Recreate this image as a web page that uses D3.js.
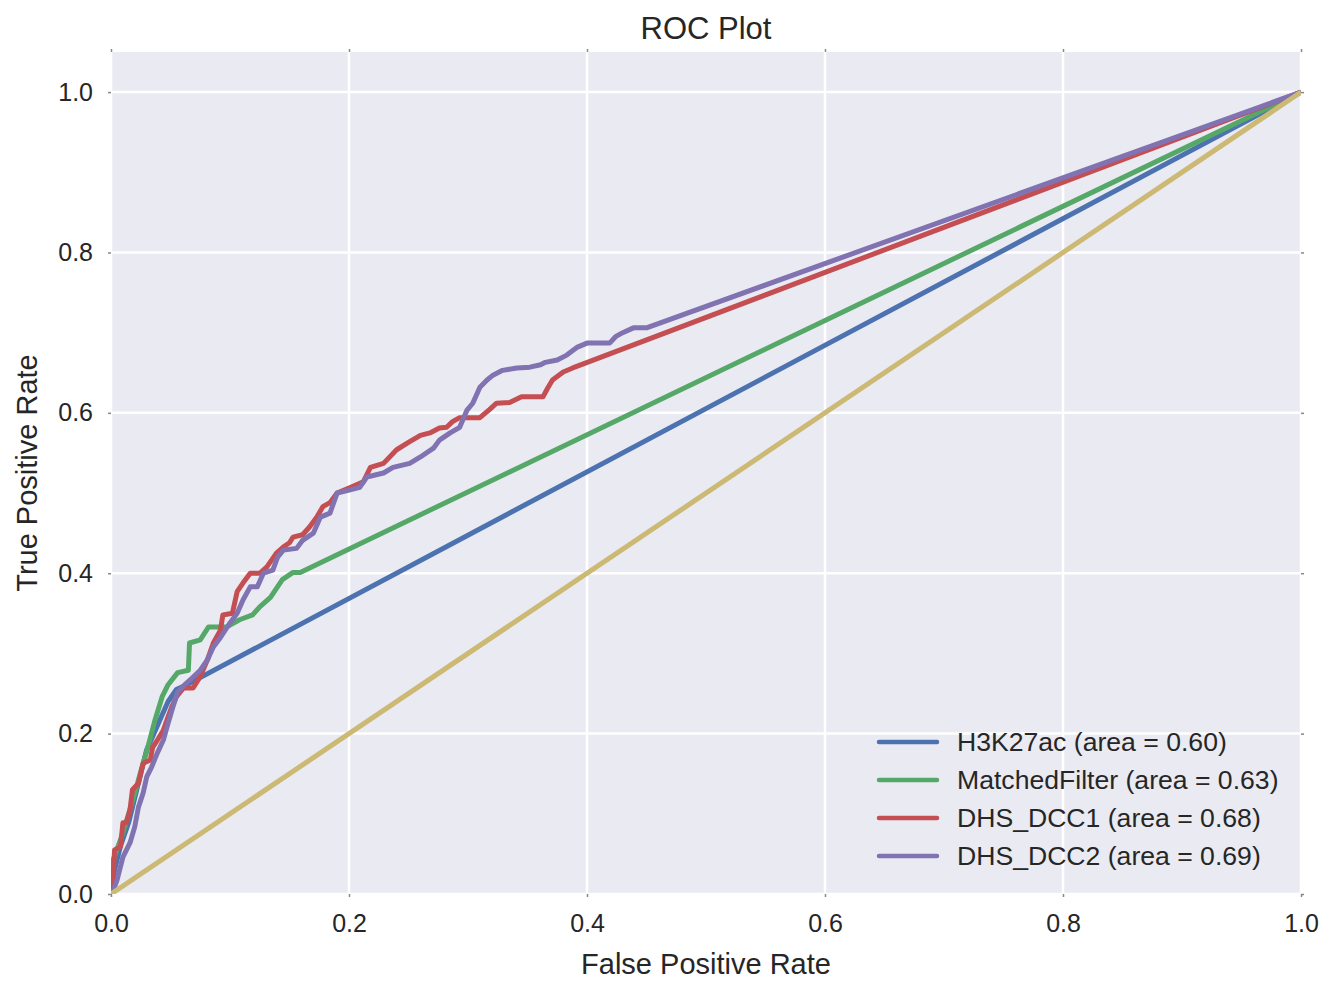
<!DOCTYPE html>
<html>
<head>
<meta charset="utf-8">
<script src="https://cdn.jsdelivr.net/npm/d3@7"></script>
<style>
  body { margin: 0; background: #fff; }
  svg { display: block; font-family: "Liberation Sans", Arial, sans-serif; }
</style>
</head>
<body>
<svg id="chart" width="1329" height="982"></svg>
<script>
// ---- data ----
const seriesNames = ["H3K27ac", "MatchedFilter", "DHS_DCC1", "DHS_DCC2"];
const seriesAUC = ["0.60", "0.63", "0.68", "0.69"];

const h3k27acFpr = [0, 0.003, 0.008, 0.015, 0.020, 0.025, 0.030, 0.036, 0.042, 0.048, 0.055, 0.065, 1];
const h3k27acTpr = [0, 0.030, 0.060, 0.090, 0.120, 0.150, 0.180, 0.200, 0.220, 0.240, 0.255, 0.262, 1];

const matchedFpr = [0, 0.0017, 0.010, 0.020, 0.026, 0.031, 0.037, 0.043, 0.048, 0.056, 0.065, 0.066, 0.075, 0.082, 0.097, 0.108, 0.119, 0.125, 0.134, 0.144, 0.153, 0.159, 1];
const matchedTpr = [0, 0.042, 0.076, 0.126, 0.158, 0.183, 0.217, 0.246, 0.261, 0.276, 0.279, 0.313, 0.317, 0.333, 0.333, 0.342, 0.348, 0.358, 0.370, 0.392, 0.401, 0.401, 1];

const dcc1Fpr = [0, 0.002, 0.003, 0.008, 0.010, 0.013, 0.016, 0.018, 0.023, 0.027, 0.033, 0.035, 0.039, 0.044, 0.047, 0.051, 0.055, 0.061, 0.069, 0.075, 0.081, 0.086, 0.092, 0.094, 0.102, 0.106, 0.111, 0.117, 0.125, 0.131, 0.139, 0.145, 0.150, 0.153, 0.161, 0.167, 0.173, 0.178, 0.184, 0.190, 0.201, 0.212, 0.218, 0.229, 0.240, 0.251, 0.260, 0.268, 0.276, 0.282, 0.287, 0.293, 0.310, 0.318, 0.324, 0.335, 0.345, 0.363, 0.367, 0.371, 0.380, 0.388, 1];
const dcc1Tpr = [0, 0.026, 0.055, 0.059, 0.089, 0.089, 0.105, 0.130, 0.138, 0.163, 0.167, 0.183, 0.192, 0.204, 0.217, 0.233, 0.246, 0.257, 0.257, 0.271, 0.292, 0.313, 0.329, 0.348, 0.350, 0.377, 0.388, 0.400, 0.400, 0.408, 0.425, 0.433, 0.438, 0.445, 0.448, 0.458, 0.470, 0.483, 0.488, 0.500, 0.507, 0.514, 0.532, 0.537, 0.554, 0.564, 0.572, 0.575, 0.581, 0.582, 0.589, 0.594, 0.594, 0.604, 0.612, 0.613, 0.620, 0.620, 0.631, 0.641, 0.651, 0.656, 1];

const dcc2Fpr = [0, 0.001, 0.005, 0.010, 0.016, 0.020, 0.023, 0.027, 0.030, 0.034, 0.039, 0.044, 0.048, 0.052, 0.056, 0.062, 0.068, 0.075, 0.081, 0.086, 0.092, 0.100, 0.106, 0.111, 0.117, 0.123, 0.128, 0.136, 0.140, 0.145, 0.156, 0.161, 0.170, 0.176, 0.184, 0.190, 0.201, 0.209, 0.215, 0.229, 0.237, 0.251, 0.260, 0.271, 0.276, 0.285, 0.293, 0.299, 0.304, 0.310, 0.316, 0.321, 0.329, 0.341, 0.352, 0.361, 0.365, 0.375, 0.383, 0.392, 0.400, 0.419, 0.424, 0.430, 0.439, 0.450, 1];
const dcc2Tpr = [0, 0.001, 0.017, 0.046, 0.064, 0.084, 0.108, 0.126, 0.146, 0.158, 0.176, 0.192, 0.213, 0.233, 0.252, 0.261, 0.269, 0.279, 0.292, 0.308, 0.320, 0.338, 0.350, 0.367, 0.383, 0.383, 0.400, 0.404, 0.420, 0.429, 0.431, 0.441, 0.450, 0.470, 0.475, 0.500, 0.504, 0.507, 0.520, 0.525, 0.532, 0.537, 0.545, 0.556, 0.566, 0.575, 0.582, 0.603, 0.612, 0.632, 0.641, 0.647, 0.653, 0.656, 0.657, 0.660, 0.663, 0.666, 0.672, 0.682, 0.687, 0.687, 0.695, 0.700, 0.706, 0.706, 1];

const chanceFpr = [0, 1];
const chanceTpr = [0, 1];

const xTicks = [0.0, 0.2, 0.4, 0.6, 0.8, 1.0];
const yTicks = [0.0, 0.2, 0.4, 0.6, 0.8, 1.0];

const seriesColors = ["#4c72b0", "#55a868", "#c44e52", "#8172b2"];
const chanceColor = "#ccb974";

(function () {
// ---- layout ----
const svg = d3.select("#chart");
const pLeft = 111, pRight = 1301, pTop = 52, pBottom = 894;

const x = d3.scaleLinear().domain([0, 1]).range([pLeft, pRight]);
const y = d3.scaleLinear().domain([0, 1.05]).range([pBottom, pTop]);

svg.append("rect")
  .attr("x", pLeft).attr("y", pTop)
  .attr("width", pRight - pLeft).attr("height", pBottom - pTop)
  .attr("fill", "#eaeaf2");

svg.append("clipPath").attr("id", "clip")
  .append("rect")
  .attr("x", pLeft).attr("y", pTop)
  .attr("width", pRight - pLeft).attr("height", pBottom - pTop);

// grid
const grid = svg.append("g");
grid.selectAll(".vg").data(xTicks).join("line")
  .attr("x1", d => x(d)).attr("x2", d => x(d))
  .attr("y1", pTop).attr("y2", pBottom)
  .attr("stroke", "#fff").attr("stroke-width", 2.5);
grid.selectAll(".hg").data(yTicks).join("line")
  .attr("y1", d => y(d)).attr("y2", d => y(d))
  .attr("x1", pLeft).attr("x2", pRight)
  .attr("stroke", "#fff").attr("stroke-width", 2.5);

// axes: small outward tick marks on all four sides
const fmt = d3.format(".1f");
function styleAxis(g, labels) {
  g.select(".domain").remove();
  g.selectAll(".tick line").attr("stroke", "#888").attr("stroke-width", 1.5);
  g.selectAll(".tick text")
    .attr("fill", "#262626")
    .style("font-size", "25px")
    .style("font-family", "Liberation Sans, Arial, sans-serif");
  if (!labels) g.selectAll(".tick text").remove();
}
svg.append("g").attr("transform", `translate(0,${pBottom})`)
  .call(d3.axisBottom(x).tickValues(xTicks).tickFormat(fmt).tickSize(3).tickPadding(17))
  .call(g => styleAxis(g, true));
svg.append("g").attr("transform", `translate(0,${pTop})`)
  .call(d3.axisTop(x).tickValues(xTicks).tickSize(3))
  .call(g => styleAxis(g, false));
svg.append("g").attr("transform", `translate(${pLeft},0)`)
  .call(d3.axisLeft(y).tickValues(yTicks).tickFormat(fmt).tickSize(3).tickPadding(15))
  .call(g => styleAxis(g, true));
svg.append("g").attr("transform", `translate(${pRight},0)`)
  .call(d3.axisRight(y).tickValues(yTicks).tickSize(3))
  .call(g => styleAxis(g, false));

// curves
const series = [
  { fpr: h3k27acFpr, tpr: h3k27acTpr },
  { fpr: matchedFpr, tpr: matchedTpr },
  { fpr: dcc1Fpr, tpr: dcc1Tpr },
  { fpr: dcc2Fpr, tpr: dcc2Tpr }
];
const line = d3.line().x(d => x(d[0])).y(d => y(d[1]));
const plot = svg.append("g").attr("clip-path", "url(#clip)");
series.forEach((s, i) => {
  plot.append("path")
    .datum(s.fpr.map((f, k) => [f, s.tpr[k]]))
    .attr("d", line)
    .attr("fill", "none")
    .attr("stroke", seriesColors[i])
    .attr("stroke-width", 5)
    .attr("stroke-linejoin", "round");
});
plot.append("path")
  .datum(chanceFpr.map((f, k) => [f, chanceTpr[k]]))
  .attr("d", line)
  .attr("fill", "none")
  .attr("stroke", chanceColor)
  .attr("stroke-width", 5);

// legend
const legend = svg.append("g");
seriesNames.forEach((name, i) => {
  const ly = 742 + i * 38;
  legend.append("line")
    .attr("x1", 879).attr("x2", 937).attr("y1", ly).attr("y2", ly)
    .attr("stroke", seriesColors[i]).attr("stroke-width", 4.5)
    .attr("stroke-linecap", "round");
  legend.append("text")
    .attr("x", 957).attr("y", ly)
    .attr("dy", "0.35em")
    .attr("fill", "#262626")
    .style("font-size", "26.6px")
    .text(`${name} (area = ${seriesAUC[i]})`);
});

// title and axis labels
svg.append("text")
  .attr("x", (pLeft + pRight) / 2).attr("y", 39)
  .attr("text-anchor", "middle").attr("fill", "#262626")
  .style("font-size", "31px").text("ROC Plot");
svg.append("text")
  .attr("x", (pLeft + pRight) / 2).attr("y", 974)
  .attr("text-anchor", "middle").attr("fill", "#262626")
  .style("font-size", "29px").text("False Positive Rate");
svg.append("text")
  .attr("transform", `translate(37,${(pTop + pBottom) / 2}) rotate(-90)`)
  .attr("text-anchor", "middle").attr("fill", "#262626")
  .style("font-size", "29px").text("True Positive Rate");
})();
</script>
</body>
</html>
